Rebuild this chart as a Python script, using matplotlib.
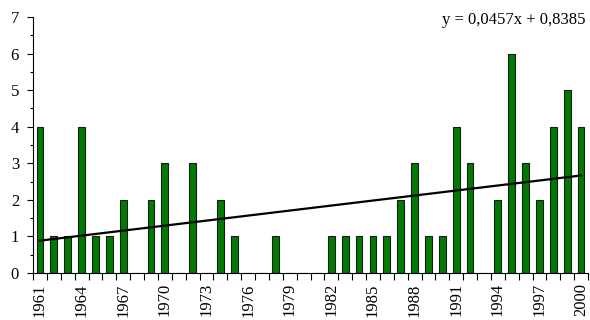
import matplotlib
matplotlib.use("Agg")
import matplotlib.pyplot as plt
import numpy as np
from matplotlib.ticker import MultipleLocator, FixedLocator

years = list(range(1961, 2001))
counts = [4, 1, 1, 4, 1, 1, 2, 0, 2, 3,
          0, 3, 0, 2, 1, 0, 0, 1, 0, 0,
          0, 1, 1, 1, 1, 1, 2, 3, 1, 1,
          4, 3, 0, 2, 6, 3, 2, 4, 5, 4]
trend_slope = 0.0457
trend_intercept = 0.8385
label_years = years[::3]

plt.rcParams['font.family'] = ['Liberation Serif', 'DejaVu Serif']

fig = plt.figure(figsize=(5.9, 3.2), dpi=100)
ax = fig.add_axes([33/590, 1-273/320, (588-33)/590, (273-17)/320])

idx = np.arange(1, len(years) + 1)
ax.bar(idx, counts, width=0.48, color='#007a00', edgecolor='#1a1a1a', linewidth=0.8, zorder=2)
trend = trend_slope * idx + trend_intercept
ax.plot([idx[0], idx[-1]], [trend[0], trend[-1]], color='black', lw=1.6, zorder=3)

ax.set_xlim(0.5, len(years) + 0.5)
ax.set_ylim(0, 7)
ax.yaxis.set_major_locator(MultipleLocator(1))
ax.yaxis.set_minor_locator(MultipleLocator(0.5))
ax.tick_params(axis='y', which='major', direction='out', length=4, width=0.8, labelsize=12, pad=6)
ax.tick_params(axis='y', which='minor', direction='out', length=2, width=0.8)

# category boundary ticks
ax.xaxis.set_major_locator(FixedLocator([i + 0.5 for i in range(0, len(years) + 1)]))
ax.set_xticklabels([])
ax.tick_params(axis='x', which='major', direction='out', length=5, width=0.8)
label_pos = [years.index(y) + 1 for y in label_years]
for p, y in zip(label_pos, label_years):
    ax.text(p, -0.28, str(y), rotation=90, ha='center', va='top', fontsize=12,
            transform=ax.transData, clip_on=False)

for s in ['top', 'right']:
    ax.spines[s].set_visible(False)
for s in ['left', 'bottom']:
    ax.spines[s].set_linewidth(0.8)

fig.text(585/590, 1-20/320, f"y = {trend_slope:.4f}x + {trend_intercept:.4f}".replace('.', ','),
         ha='right', va='center', fontsize=12)

fig.savefig('out.png', dpi=100)
